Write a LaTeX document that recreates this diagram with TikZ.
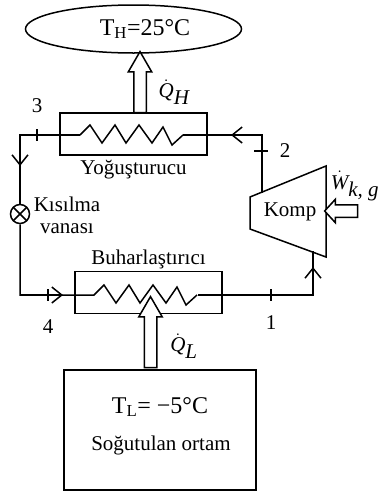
\documentclass[tikz,border=0pt]{standalone}
\usepackage{fontspec}
\setmainfont{Liberation Serif}
\usetikzlibrary{arrows.meta, positioning, shapes.geometric, shapes.arrows}
\newcommand*{\myrate}[2]{$\dot{\textit{#1}}_{\textit{#2}}$}
\newcommand*{\mycoil}{-- ++(10,-10) -- ++(12,18) -- ++(13,-18) -- ++(11,18) -- ++(13,-18) -- ++(13,18) -- ++(11,-16) -- ++(9,18) -- ++(11,-10)}

\begin{document}
\begin{tikzpicture}[x=1pt,y=-1pt,line width=1.5pt,on grid,>={Straight Barb[length=10pt,width=16pt,line width=1.5pt]},
      every node/.style={font=\fontsize{21}{23}\selectfont,inner sep=0pt},
      exchanger/.style={draw,minimum width=147pt,minimum height=42pt},
      blockarrow/.style={draw,fill=white,single arrow,inner sep=5.5pt,minimum width=23pt,single arrow head extend=5.5pt,
        single arrow tip angle=60,single arrow head indent=0pt}]
      \useasboundingbox (0,0) rectangle (390,491);
      \node[draw,ellipse,minimum width=216pt,minimum height=48pt] (hot) at (133.5,29) {};
      \node at (145,29) {\fontsize{24}{26}\selectfont T\textsubscript{H}=25°C};
      \node[exchanger] (evap) at (148.5,292.5) {};
      \node[draw,circle,minimum size=19pt,
        path picture={\draw (path picture bounding box.north west) -- (path picture bounding box.south east)
          (path picture bounding box.north east) -- (path picture bounding box.south west);}] (valve) at (20,214) {};

      % compressor
      \coordinate (compa) at (250,197);
      \coordinate (compb) at (326,166);
      \coordinate (compc) at (326,257);
      \coordinate (compd) at (250,229);
      \draw (compa) -- (compb) -- (compc) -- (compd) -- cycle;
      \node (komp) at (290,212) {Komp};

      % condenser line
      \coordinate (condin) at (80,135);
      \coordinate (condout) at (183,135);
      \coordinate (cornerne) at (262,135);
      \coordinate (cornernw) at (20,135);
      \coordinate (compin) at (262,192.5);
      \coordinate (headh) at (231,135);
      \coordinate (headv) at (20,166);
      \draw (compin) -- (cornerne) -- (condout);
      \draw (condin) \mycoil;
      \draw (condin) -- (cornernw) -- (valve.north);
      \draw[->] (cornerne) -- (headh);
      \draw[->] (cornernw) -- (headv);

      % evaporator line
      \coordinate (evapin) at (94,295);
      \coordinate (evapout) at (198,295);
      \coordinate (cornersw) at (20,295);
      \coordinate (cornerse) at (313,295);
      \coordinate (compout) at (313,251);
      \coordinate (heade) at (63,295);
      \coordinate (headn) at (313,267);
      \draw (valve.south) -- (cornersw) -- (evapin) \mycoil;
      \draw (evapout) -- (cornerse) -- (compout);
      \draw[->] (cornersw) -- (heade);
      \draw[->] (cornerse) -- (headn);

      % heat and work arrows
      \node[blockarrow,shape border rotate=90,minimum height=61pt] (qh) at (140,87.5) {};
      \node[blockarrow,shape border rotate=90,minimum height=71pt] (ql) at (150.5,337.5) {};
      \node[blockarrow,shape border rotate=180,single arrow tip angle=95,minimum height=33pt] (work) at (344,211) {};
      \node[exchanger] (cond) at (133.5,134) {};
      \node[draw,minimum width=192pt,minimum height=120pt] (cold) at (160,430) {};

      % state points
      \coordinate (pt3) at (37,135);
      \coordinate (pt2) at (261,151);
      \coordinate (pt4) at (48,295);
      \coordinate (pt1) at (271,295);
      \draw (pt3) +(0,-6) -- +(0,6);
      \draw (pt2) +(-7,0) -- +(7,0);
      \draw (pt4) +(0,-6) -- +(0,6);
      \draw (pt1) +(0,-6) -- +(0,6);
      \node[above=22pt of pt3] (lab3) {3};
      \node[right=18pt of pt2] (lab2) {2};
      \node[below=24pt of pt4] (lab4) {4};
      \node[below=20pt of pt1] (lab1) {1};

      % labels
      \node[below=36pt of cond] (condname) {Yoğuşturucu};
      \node[above=33pt of evap] (evapname) {Buharlaştırıcı};
      \node (valvea) at (67,204) {Kısılma};
      \node[below=25pt of valvea] (valveb) {vanası};
      \node (ratehot) at (174,92) {\myrate{Q}{H}};
      \node (ratecold) at (184,346) {\myrate{Q}{L}};
      \node (ratework) at (355,186) {\myrate{W}{k, g}};
      \node (tempcold) at (160,407) {\fontsize{24}{26}\selectfont T\textsubscript{L}= −5°C};
      \node (coldname) at (161,445) {Soğutulan ortam};
    \end{tikzpicture}
\end{document}
